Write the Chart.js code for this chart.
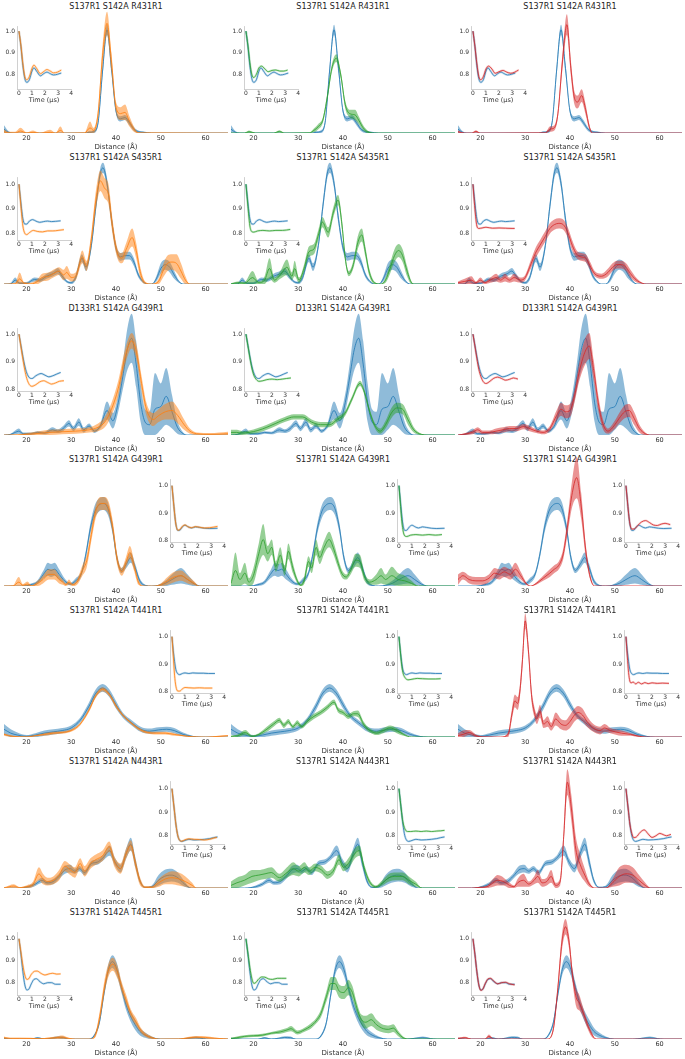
<!DOCTYPE html>
<html>
<head>
<meta charset="utf-8">
<script src="https://cdn.jsdelivr.net/npm/chart.js@4.4.1/dist/chart.umd.min.js"></script>
<style>
  body { margin: 0; background: #fff; }
  #fig { position: relative; width: 685px; height: 1059px; overflow: hidden; font-family: "DejaVu Sans", sans-serif; }
  .ttl { position: absolute; width: 224px; text-align: center; font-size: 8px; line-height: 10px; color: #222; white-space: nowrap; }
  canvas { position: absolute; }
</style>
</head>
<body>
<div id="fig"></div>
<script>
// panel titles, one per row
const titles = [
  "S137R1 S142A R431R1", "S137R1 S142A S435R1", "D133R1 S142A G439R1", "S137R1 S142A G439R1",
  "S137R1 S142A T441R1", "S137R1 S142A N443R1", "S137R1 S142A T445R1"
];
const distanceTicks = [20, 30, 40, 50, 60];
const timeTicks = [0, 1, 2, 3, 4];
const insetYTicks = [0.8, 0.9, 1.0];

// distance distributions: [distance (A), value, band half width]
const distR0Ref = [[15,0.03,0.03],[16,0.005,0.01],[17,0,0],[33,0,0],[34,0.005,0.008],[35,0.01,0.01],[36,0.08,0.02],[37,0.48,0.04],[38,0.8,0.04],[39,0.5,0.04],[40,0.17,0.02],[41,0.11,0.02],[42,0.12,0.02],[43,0.08,0.02],[44,0.03,0.015],[45,0.01,0.01],[46,0.005,0.008],[48,0,0],[65,0,0]];
const distR0Orange = [[15,0.01,0.02],[16,0,0.01],[17.5,0,0.01],[18.7,0.015,0.025],[20,0,0.005],[21.5,0.005,0.015],[23,0,0],[25.3,0.005,0.02],[26.5,0,0],[27.6,0.02,0.03],[28.5,0,0],[33,0,0.005],[34.2,0.04,0.05],[35,0.02,0.02],[36,0.15,0.04],[37,0.6,0.08],[38,0.85,0.09],[39,0.55,0.07],[40,0.2,0.04],[41,0.15,0.05],[42,0.16,0.06],[43,0.09,0.04],[44,0.03,0.02],[45,0,0.005],[65,0,0]];
const distR0Green = [[15,0,0],[18,0,0],[19,0.01,0.01],[20.5,0,0],[24.5,0,0],[25.8,0.012,0.01],[27,0,0],[32.5,0,0.005],[33.5,0.02,0.015],[34.5,0.05,0.02],[35.5,0.1,0.02],[36.5,0.28,0.03],[37.5,0.5,0.03],[38.5,0.58,0.03],[39.5,0.45,0.03],[40.5,0.22,0.03],[41.5,0.15,0.03],[42.7,0.14,0.04],[43.5,0.1,0.03],[44.5,0.04,0.02],[45.5,0.01,0.01],[47,0,0],[65,0,0]];
const distR0Red = [[15,0.01,0.01],[16.5,0,0],[18,0,0],[19,0.012,0.01],[20,0,0],[34.5,0,0.005],[35.5,0.03,0.02],[36.5,0.04,0.02],[37.3,0.15,0.03],[38.3,0.55,0.06],[39.3,0.84,0.08],[40.2,0.5,0.06],[41,0.27,0.05],[41.7,0.24,0.05],[42.6,0.29,0.05],[43.5,0.18,0.04],[44.3,0.05,0.02],[45,0,0],[65,0,0]];

const distR1Ref = [[15,0,0],[16.5,0,0.01],[17.5,0.03,0.02],[18.5,0.005,0.01],[20,0.005,0.01],[21.8,0.035,0.015],[23,0.03,0.015],[24.5,0.06,0.02],[26,0.08,0.02],[27,0.1,0.025],[28,0.06,0.02],[29,0.02,0.01],[30,0.01,0.01],[31,0.05,0.02],[32.4,0.2,0.03],[33.3,0.13,0.03],[34.5,0.3,0.03],[35.5,0.6,0.04],[36.5,0.86,0.04],[37.1,0.9,0.04],[38,0.78,0.04],[39,0.5,0.04],[40,0.28,0.03],[41,0.21,0.03],[42,0.22,0.03],[43,0.22,0.03],[44,0.17,0.03],[45,0.07,0.02],[46,0.02,0.01],[47,0,0],[48,0,0],[49,0.04,0.02],[50,0.12,0.04],[51,0.15,0.04],[52,0.13,0.04],[53,0.07,0.03],[54,0.02,0.01],[55,0,0],[65,0,0]];
const distR1Orange = [[15,0,0],[17.5,0,0.01],[18.5,0.04,0.05],[19.5,0.005,0.01],[21,0,0.01],[22.5,0.02,0.02],[23.5,0.05,0.03],[25,0.06,0.03],[26,0.08,0.03],[27.3,0.1,0.03],[28.3,0.07,0.04],[29,0.09,0.05],[30,0.05,0.03],[31,0.06,0.03],[32.5,0.21,0.05],[33.4,0.14,0.04],[34.5,0.35,0.05],[35.5,0.65,0.07],[36.5,0.8,0.08],[37.5,0.74,0.08],[38.3,0.7,0.08],[39.2,0.45,0.06],[40.3,0.24,0.04],[41.3,0.2,0.04],[42.3,0.27,0.05],[43.6,0.36,0.07],[44.5,0.26,0.06],[45.5,0.08,0.04],[46.5,0.01,0.01],[48,0,0],[49.5,0.02,0.02],[50.5,0.1,0.05],[51.5,0.16,0.06],[52.5,0.17,0.06],[53.5,0.16,0.07],[54.5,0.1,0.06],[55.5,0.03,0.03],[56.5,0,0],[65,0,0]];
const distR1Green = [[15,0,0.005],[16.5,0.01,0.01],[18,0.005,0.01],[19.8,0.05,0.05],[21.2,0.01,0.01],[22.5,0.03,0.03],[23.6,0.12,0.08],[24.7,0.03,0.02],[26,0.07,0.03],[27.5,0.13,0.06],[28.6,0.06,0.03],[29.2,0.12,0.06],[30.2,0.03,0.02],[31.3,0.12,0.03],[32.4,0.25,0.04],[33.5,0.27,0.04],[34.5,0.38,0.04],[35.4,0.48,0.04],[36.7,0.4,0.04],[37.8,0.55,0.04],[38.9,0.65,0.04],[39.8,0.45,0.04],[40.5,0.2,0.03],[41.3,0.08,0.02],[42.3,0.15,0.03],[43.3,0.32,0.05],[44.2,0.38,0.05],[45,0.25,0.04],[45.8,0.1,0.03],[47,0.01,0.01],[48.5,0,0],[49.5,0.03,0.02],[50.5,0.12,0.04],[51.5,0.22,0.05],[52.4,0.26,0.05],[53.3,0.22,0.05],[54.3,0.1,0.04],[55.3,0.01,0.01],[56,0,0],[65,0,0]];
const distR1Red = [[15,0.01,0.01],[16.5,0.02,0.02],[18,0.03,0.03],[19,0.01,0.01],[20,0.03,0.02],[21,0.01,0.01],[22.2,0.03,0.02],[23.5,0.05,0.03],[24.5,0.03,0.02],[25.5,0.05,0.03],[26.5,0.03,0.02],[27.5,0.05,0.03],[29,0.03,0.02],[30,0.05,0.02],[31,0.13,0.03],[32.3,0.24,0.04],[33.3,0.3,0.04],[34.5,0.37,0.04],[35.5,0.43,0.04],[36.5,0.46,0.04],[37.5,0.47,0.04],[38.5,0.46,0.04],[39.5,0.4,0.04],[40.5,0.3,0.04],[41.5,0.23,0.03],[42.5,0.21,0.03],[43.5,0.2,0.03],[44.5,0.14,0.03],[45.5,0.08,0.02],[47,0.06,0.02],[48.5,0.09,0.03],[49.5,0.13,0.03],[50.5,0.15,0.03],[51.5,0.15,0.03],[52.5,0.13,0.03],[53.5,0.08,0.03],[54.5,0.04,0.02],[55.5,0.015,0.01],[57,0,0],[65,0,0]];

const distR2Ref = [[15,0,0],[16.5,0.005,0.005],[17.5,0.02,0.015],[18.3,0.03,0.02],[19.3,0.01,0.01],[21,0.01,0.01],[22.5,0.02,0.01],[24,0.015,0.01],[25.8,0.04,0.02],[27,0.03,0.015],[28.2,0.05,0.02],[29.5,0.09,0.025],[30.5,0.05,0.02],[31.7,0.1,0.03],[32.8,0.04,0.02],[34,0.07,0.02],[35.2,0.03,0.015],[36.5,0.07,0.02],[38,0.19,0.07],[39.3,0.11,0.06],[40.5,0.25,0.07],[41.5,0.45,0.1],[42.5,0.66,0.16],[43.5,0.75,0.19],[44.5,0.55,0.18],[45.5,0.25,0.15],[46.5,0.1,0.1],[47.5,0.08,0.1],[48.7,0.2,0.28],[50,0.22,0.18],[51.2,0.3,0.22],[52.5,0.18,0.13],[53.7,0.06,0.05],[55,0.01,0.01],[56,0,0],[65,0,0]];
const distR2Orange = [[15,0,0],[18,0,0.005],[20,0.005,0.01],[22,0.01,0.015],[25,0.02,0.02],[28,0.025,0.02],[31,0.03,0.02],[34,0.04,0.02],[36,0.06,0.03],[37.5,0.1,0.04],[39,0.2,0.05],[40.5,0.36,0.06],[42,0.6,0.06],[43.5,0.73,0.06],[44.7,0.62,0.06],[45.7,0.4,0.06],[46.8,0.2,0.05],[48.3,0.12,0.05],[49.5,0.15,0.05],[51,0.18,0.06],[52.5,0.19,0.07],[53.8,0.15,0.06],[55.2,0.08,0.04],[56.5,0.03,0.02],[58,0.01,0.01],[61,0.005,0.01],[65,0.01,0.015]];
const distR2Green = [[15,0.02,0.02],[16.3,0.02,0.02],[17.5,0.015,0.015],[19,0.02,0.015],[21,0.035,0.02],[23,0.06,0.02],[25,0.09,0.02],[27,0.12,0.02],[29,0.14,0.02],[31,0.14,0.02],[33,0.1,0.02],[35,0.08,0.02],[37,0.08,0.02],[38.7,0.12,0.02],[40.5,0.17,0.02],[42,0.28,0.02],[43.8,0.4,0.02],[44.8,0.33,0.02],[45.8,0.2,0.02],[47,0.08,0.02],[48.3,0.03,0.02],[49.5,0.08,0.03],[50.8,0.17,0.04],[52,0.21,0.04],[53.3,0.2,0.04],[54.5,0.12,0.04],[55.8,0.04,0.02],[57.5,0.005,0.005],[59,0,0],[65,0,0]];
const distR2Red = [[15,0,0],[17,0.01,0.01],[18.2,0.02,0.015],[19.4,0.04,0.02],[20.5,0.02,0.015],[22,0.02,0.015],[23.5,0.03,0.02],[25,0.04,0.02],[26.5,0.05,0.02],[28,0.05,0.02],[29.7,0.065,0.02],[31,0.05,0.02],[32.5,0.03,0.015],[34,0.02,0.015],[35.5,0.05,0.02],[37,0.15,0.04],[38,0.2,0.05],[39,0.18,0.05],[40,0.19,0.05],[41,0.3,0.05],[42,0.48,0.07],[43.3,0.64,0.1],[44.3,0.69,0.1],[45.3,0.5,0.08],[46.3,0.25,0.06],[47.3,0.09,0.04],[48.5,0.03,0.02],[49.8,0.07,0.03],[51,0.13,0.04],[52.2,0.18,0.05],[53.2,0.19,0.05],[54.3,0.13,0.05],[55.5,0.05,0.03],[56.8,0.01,0.01],[58,0,0],[65,0,0]];

const distR3Ref = [[15,0,0],[19,0,0],[21,0.01,0.01],[22.5,0.03,0.015],[23.8,0.09,0.03],[24.8,0.13,0.05],[25.5,0.12,0.05],[26.3,0.13,0.05],[27.3,0.09,0.04],[28.5,0.04,0.02],[29.8,0.015,0.01],[31,0.04,0.02],[32.3,0.1,0.02],[33.3,0.25,0.03],[34.3,0.45,0.04],[35.3,0.58,0.05],[36.3,0.63,0.05],[37.2,0.64,0.05],[38.2,0.6,0.05],[39.2,0.45,0.04],[40.2,0.22,0.03],[41.2,0.12,0.02],[42.3,0.17,0.03],[43.3,0.22,0.04],[44.3,0.14,0.03],[45.3,0.04,0.02],[46.5,0.005,0.005],[48,0,0],[49.5,0.005,0.005],[51,0.02,0.02],[52.5,0.05,0.04],[54.5,0.08,0.06],[56,0.05,0.04],[57.5,0.015,0.015],[59,0,0],[65,0,0]];
const distR3Orange = [[15,0,0],[17,0,0.005],[18.3,0.03,0.04],[19.2,0.005,0.01],[20.2,0.015,0.02],[21.2,0,0.005],[22.5,0.02,0.02],[23.7,0.05,0.03],[25,0.09,0.04],[26.2,0.09,0.04],[27.3,0.05,0.03],[28.1,0.03,0.02],[28.8,0.01,0.01],[29.5,0.03,0.02],[30.3,0.01,0.01],[31.3,0.03,0.02],[32.5,0.12,0.04],[33.5,0.2,0.05],[34.5,0.4,0.05],[35.5,0.58,0.05],[36.5,0.64,0.05],[37.5,0.64,0.05],[38.4,0.6,0.05],[39.3,0.45,0.05],[40.3,0.2,0.04],[41.3,0.11,0.03],[42.2,0.18,0.04],[43.1,0.26,0.05],[44,0.16,0.04],[45,0.03,0.02],[46,0,0],[48.5,0,0],[50,0.01,0.01],[51.5,0.04,0.03],[53,0.07,0.04],[54.5,0.08,0.04],[56,0.05,0.03],[57.5,0.02,0.015],[58.5,0,0],[65,0,0]];
const distR3Green = [[15,0.02,0.02],[16,0.12,0.14],[17,0.05,0.05],[18.1,0.1,0.08],[19,0.03,0.03],[20,0.08,0.06],[21.2,0.25,0.08],[22.2,0.36,0.12],[23.2,0.25,0.06],[24.1,0.3,0.06],[25,0.15,0.04],[26,0.24,0.06],[27,0.12,0.04],[27.8,0.27,0.06],[28.8,0.14,0.04],[29.8,0.04,0.02],[30.6,0.005,0.01],[31.4,0.05,0.03],[32.3,0.19,0.04],[33,0.14,0.04],[34,0.3,0.06],[34.8,0.22,0.05],[35.8,0.3,0.05],[36.9,0.36,0.06],[37.8,0.3,0.05],[38.7,0.2,0.04],[39.7,0.1,0.03],[40.7,0.07,0.02],[41.7,0.12,0.03],[42.8,0.2,0.05],[43.8,0.19,0.05],[44.8,0.07,0.03],[46,0.03,0.02],[47.4,0.05,0.04],[48.5,0.08,0.06],[49.5,0.05,0.04],[50.9,0.08,0.07],[52.3,0.05,0.05],[53.8,0.04,0.04],[55.3,0.02,0.02],[56.8,0,0],[65,0,0]];
const distR3Red = [[15,0.05,0.04],[16.1,0.08,0.03],[17.5,0.05,0.03],[19,0.04,0.03],[20.5,0.04,0.03],[21.9,0.06,0.03],[23.2,0.1,0.04],[24.2,0.09,0.04],[25.3,0.11,0.04],[26.7,0.09,0.04],[27.8,0.13,0.05],[29,0.08,0.03],[30.2,0.02,0.01],[31.2,0,0],[32.5,0.02,0.01],[34,0.06,0.02],[35.5,0.1,0.03],[36.5,0.13,0.03],[37.5,0.16,0.03],[38.5,0.25,0.04],[39.4,0.45,0.06],[40.4,0.7,0.1],[41.5,0.84,0.16],[42.5,0.62,0.1],[43.5,0.28,0.05],[44.5,0.07,0.02],[45.5,0,0],[65,0,0]];

const distR4Ref = [[15,0.06,0.04],[16.5,0.03,0.03],[18,0.015,0.02],[20,0.005,0.01],[22,0.015,0.015],[24,0.03,0.02],[26,0.04,0.02],[28,0.05,0.02],[30,0.07,0.02],[32,0.13,0.02],[34,0.24,0.03],[35.5,0.34,0.03],[37,0.38,0.03],[38.5,0.34,0.03],[40,0.25,0.03],[41.5,0.17,0.02],[43.5,0.11,0.02],[45.5,0.06,0.02],[47.5,0.045,0.02],[49.5,0.055,0.02],[51.3,0.06,0.02],[53,0.05,0.02],[55,0.02,0.015],[57,0.005,0.005],[59,0,0],[65,0,0]];
const distR4Orange = [[15,0.02,0.01],[17,0.005,0.005],[20,0,0.005],[22,0.01,0.005],[24,0.02,0.01],[26,0.03,0.01],[28,0.035,0.01],[30,0.05,0.01],[32,0.1,0.01],[34,0.21,0.015],[35.5,0.32,0.015],[37,0.37,0.015],[38.5,0.33,0.015],[40,0.24,0.015],[41.5,0.17,0.01],[43,0.12,0.01],[45,0.065,0.01],[47,0.035,0.01],[49,0.03,0.01],[51,0.03,0.01],[53,0.02,0.01],[55,0.01,0.005],[57,0.002,0.003],[60,0,0],[63,0.005,0.005],[65,0.01,0.005]];
const distR4Green = [[15,0.005,0.005],[16.5,0.01,0.01],[18.2,0.035,0.02],[19.7,0.005,0.01],[21.2,0.02,0.01],[23,0.06,0.02],[24.5,0.1,0.02],[25.8,0.13,0.02],[26.8,0.09,0.02],[27.8,0.12,0.02],[28.8,0.08,0.015],[29.8,0.11,0.02],[30.8,0.08,0.015],[32,0.12,0.02],[33.5,0.16,0.02],[35,0.19,0.02],[36.5,0.23,0.02],[38,0.27,0.02],[38.9,0.21,0.02],[40,0.19,0.02],[41.2,0.16,0.02],[42.3,0.18,0.02],[43.3,0.18,0.025],[44.6,0.1,0.02],[46,0.05,0.015],[47.5,0.03,0.015],[49,0.05,0.02],[50.5,0.07,0.02],[52,0.05,0.02],[53.5,0.02,0.01],[55.3,0,0],[65,0,0]];
const distR4Red = [[15,0.01,0.02],[16.1,0.02,0.03],[17.5,0.035,0.02],[19,0.01,0.01],[20.5,0,0.005],[24.5,0,0],[26.2,0.02,0.02],[27,0.17,0.04],[27.7,0.28,0.05],[28.3,0.26,0.05],[28.8,0.35,0.05],[29.4,0.6,0.06],[30,0.9,0.06],[30.7,0.68,0.05],[31.4,0.33,0.05],[32,0.2,0.04],[32.6,0.14,0.04],[33.3,0.2,0.05],[34.1,0.1,0.03],[35,0.12,0.04],[35.8,0.08,0.03],[36.8,0.14,0.05],[38,0.1,0.04],[39,0.09,0.04],[40,0.12,0.05],[41,0.17,0.05],[41.8,0.19,0.05],[42.8,0.17,0.05],[43.8,0.12,0.04],[45.2,0.07,0.03],[46.7,0.05,0.03],[47.7,0.07,0.03],[49,0.05,0.02],[51.5,0.03,0.02],[53.5,0.02,0.01],[55.5,0.005,0.005],[57,0,0],[65,0,0]];

const distR5Ref = [[15,0,0],[18,0,0],[20.5,0.01,0.01],[22,0.03,0.015],[23.5,0.06,0.02],[24.6,0.04,0.015],[26,0.05,0.02],[27.3,0.09,0.02],[28.6,0.14,0.03],[29.8,0.15,0.03],[30.8,0.13,0.02],[31.8,0.15,0.02],[33,0.12,0.02],[34.5,0.19,0.02],[35.8,0.2,0.02],[37,0.23,0.02],[38.6,0.29,0.04],[39.8,0.2,0.03],[41,0.15,0.03],[42.3,0.27,0.04],[43.3,0.34,0.05],[44.3,0.2,0.04],[45.3,0.06,0.02],[46.5,0.005,0.005],[48,0.01,0.01],[49.5,0.06,0.04],[50.8,0.09,0.05],[52.3,0.1,0.05],[53.8,0.08,0.04],[55.3,0.03,0.02],[56.8,0,0],[65,0,0]];
const distR5Orange = [[15,0,0.005],[17.2,0.015,0.015],[18.5,0.003,0.005],[20,0.01,0.01],[21.5,0.03,0.02],[22.8,0.11,0.05],[23.7,0.07,0.04],[24.7,0.05,0.03],[26,0.06,0.03],[27.3,0.1,0.04],[28.6,0.17,0.04],[29.8,0.14,0.04],[30.8,0.12,0.04],[32,0.19,0.04],[33,0.13,0.04],[34.3,0.19,0.04],[35.5,0.22,0.04],[37,0.25,0.04],[38.5,0.32,0.04],[39.7,0.2,0.04],[41,0.15,0.04],[42.3,0.27,0.04],[43.3,0.33,0.04],[44.4,0.18,0.04],[45.4,0.05,0.03],[46.5,0.005,0.01],[48,0.005,0.01],[49.5,0.04,0.03],[51,0.07,0.04],[52.5,0.08,0.05],[54,0.07,0.05],[55.5,0.05,0.04],[57,0.02,0.02],[58,0,0],[65,0,0]];
const distR5Green = [[15,0.02,0.03],[16.3,0.04,0.04],[18,0.06,0.04],[19.7,0.09,0.05],[21.2,0.1,0.04],[22.6,0.11,0.04],[24,0.12,0.04],[25.8,0.08,0.03],[27.5,0.12,0.04],[28.9,0.15,0.05],[30.1,0.13,0.04],[31.4,0.16,0.04],[32.4,0.13,0.03],[33.8,0.16,0.03],[35.2,0.14,0.03],[36.5,0.1,0.03],[37.8,0.13,0.03],[39.1,0.22,0.04],[40.1,0.16,0.03],[41.4,0.2,0.04],[42.7,0.27,0.04],[43.7,0.29,0.04],[44.7,0.16,0.03],[45.9,0.05,0.02],[47.3,0.01,0.01],[48.8,0.04,0.02],[50.3,0.08,0.03],[51.8,0.09,0.03],[53.3,0.09,0.03],[54.7,0.06,0.03],[56.2,0.03,0.02],[57.7,0,0],[65,0,0]];
const distR5Red = [[15,0,0],[18,0,0],[20,0.005,0.005],[21.5,0.01,0.01],[22.8,0.04,0.03],[23.8,0.06,0.04],[25.2,0.05,0.03],[26.5,0.02,0.02],[27.5,0.01,0.01],[28.3,0.04,0.03],[29.6,0.06,0.05],[30.8,0.03,0.02],[32,0.06,0.03],[32.8,0.09,0.05],[33.8,0.04,0.03],[34.8,0.05,0.03],[35.8,0.09,0.05],[36.8,0.02,0.02],[37.8,0.05,0.03],[38.6,0.4,0.06],[39.4,0.82,0.1],[40.3,0.62,0.1],[41.3,0.3,0.1],[42.3,0.18,0.08],[43.3,0.1,0.05],[44.3,0.03,0.02],[45.5,0,0],[48,0,0],[49.5,0.04,0.03],[51,0.09,0.07],[52.5,0.11,0.07],[54,0.1,0.06],[55.4,0.06,0.04],[56.8,0.02,0.02],[58,0,0],[65,0,0]];

const distR6Ref = [[15,0.005,0.005],[17,0,0],[21,0,0],[22.5,0.008,0.008],[24,0,0.003],[25.5,0.005,0.005],[27,0.012,0.01],[28.3,0.01,0.01],[29.5,0,0],[34,0,0],[35.2,0.03,0.01],[36.3,0.13,0.02],[37.3,0.35,0.03],[38.3,0.54,0.04],[39.2,0.6,0.05],[40.2,0.54,0.05],[41.2,0.4,0.04],[42.2,0.27,0.04],[43.2,0.18,0.04],[44.3,0.11,0.04],[45.3,0.06,0.03],[46.5,0.03,0.02],[48,0.01,0.01],[50,0,0],[54,0,0],[56,0.005,0.005],[57.8,0.01,0.01],[59.5,0.003,0.005],[61,0,0],[65,0,0]];
const distR6Orange = [[15,0.01,0.01],[16.5,0.005,0.005],[18.5,0.005,0.005],[21,0.004,0.005],[23,0.002,0.003],[25,0.006,0.006],[26.5,0.01,0.01],[28,0.014,0.014],[29.5,0.004,0.005],[31,0,0],[34.5,0,0],[35.5,0.04,0.02],[36.5,0.2,0.04],[37.5,0.42,0.05],[38.5,0.55,0.05],[39.3,0.58,0.05],[40.3,0.52,0.05],[41.3,0.4,0.04],[42.3,0.3,0.04],[43.3,0.2,0.03],[44.5,0.13,0.03],[45.5,0.07,0.02],[46.7,0.03,0.015],[48,0.01,0.01],[49.5,0,0],[54,0,0.003],[56,0.008,0.008],[58,0.014,0.01],[60,0.012,0.01],[62,0.006,0.006],[64,0.002,0.003],[65,0,0]];
const distR6Green = [[15,0.005,0.005],[16.3,0.01,0.01],[18,0.02,0.01],[20,0.025,0.01],[22,0.03,0.01],[24,0.045,0.01],[26,0.055,0.015],[27.5,0.07,0.015],[28.4,0.08,0.02],[29.8,0.05,0.015],[31.3,0.07,0.015],[32.8,0.1,0.02],[34,0.14,0.02],[35.1,0.2,0.03],[36.3,0.33,0.04],[37.3,0.43,0.05],[38.2,0.43,0.05],[39.2,0.37,0.05],[40.2,0.36,0.05],[41.2,0.4,0.06],[42.1,0.36,0.05],[43.1,0.24,0.04],[44.1,0.15,0.04],[45.1,0.13,0.05],[46.3,0.15,0.05],[47.5,0.11,0.04],[49,0.08,0.03],[50.2,0.075,0.03],[51.2,0.085,0.03],[52.4,0.04,0.02],[53.4,0.01,0.01],[54.8,0,0],[65,0,0]];
const distR6Red = [[15,0.005,0.005],[16.6,0.01,0.008],[18,0,0],[21,0,0],[21.9,0.02,0.015],[23,0,0],[35,0,0],[36.3,0.08,0.02],[37.3,0.4,0.04],[38.2,0.75,0.06],[39,0.87,0.06],[39.8,0.75,0.05],[40.6,0.48,0.05],[41.4,0.32,0.07],[42.1,0.28,0.06],[42.8,0.22,0.04],[43.8,0.12,0.03],[44.8,0.04,0.02],[45.8,0,0],[65,0,0]];

// time traces for the insets: [time (us), normalised signal]
const traceR0Ref = [[0,1.0],[0.15,0.93],[0.3,0.84],[0.45,0.78],[0.6,0.763],[0.8,0.775],[1.0,0.815],[1.15,0.83],[1.35,0.815],[1.65,0.793],[1.9,0.803],[2.15,0.81],[2.4,0.803],[2.65,0.797],[2.95,0.8],[3.25,0.806]];
const traceR0Orange = [[0,1.0],[0.15,0.935],[0.3,0.85],[0.45,0.79],[0.6,0.775],[0.8,0.79],[1.0,0.828],[1.15,0.843],[1.35,0.828],[1.65,0.803],[1.9,0.813],[2.15,0.822],[2.4,0.815],[2.65,0.807],[2.95,0.81],[3.25,0.82]];
const traceR0Green = [[0,1.0],[0.15,0.935],[0.3,0.855],[0.45,0.8],[0.6,0.785],[0.8,0.8],[1.0,0.83],[1.2,0.838],[1.45,0.825],[1.7,0.812],[2.0,0.818],[2.3,0.82],[2.6,0.815],[2.9,0.815],[3.2,0.82]];
const traceR0Red = [[0,1.0],[0.15,0.93],[0.3,0.85],[0.45,0.79],[0.6,0.775],[0.8,0.79],[1.0,0.825],[1.2,0.838],[1.45,0.825],[1.7,0.805],[2.0,0.812],[2.3,0.818],[2.6,0.81],[2.9,0.805],[3.2,0.81],[3.5,0.82]];
const traceR1Ref = [[0,1.0],[0.1,0.95],[0.2,0.9],[0.3,0.86],[0.45,0.838],[0.6,0.838],[0.8,0.85],[1.05,0.856],[1.3,0.85],[1.6,0.845],[1.9,0.848],[2.2,0.85],[2.5,0.848],[2.8,0.849],[3.2,0.851]];
const traceR1Orange = [[0,1.0],[0.1,0.94],[0.2,0.88],[0.3,0.83],[0.45,0.8],[0.6,0.795],[0.8,0.803],[1.1,0.812],[1.4,0.808],[1.8,0.806],[2.2,0.81],[2.6,0.81],[3.0,0.812],[3.45,0.815]];
const traceR1Green = [[0,1.0],[0.1,0.94],[0.2,0.88],[0.3,0.83],[0.45,0.807],[0.6,0.805],[0.9,0.81],[1.3,0.812],[1.8,0.81],[2.3,0.812],[2.8,0.812],[3.4,0.816]];
const traceR1Red = [[0,1.0],[0.1,0.93],[0.2,0.87],[0.3,0.83],[0.45,0.82],[0.7,0.822],[1.0,0.825],[1.5,0.821],[2.0,0.822],[2.5,0.821],[3.0,0.82],[3.2,0.82]];
const traceR2Ref = [[0,1.0],[0.15,0.96],[0.3,0.92],[0.45,0.885],[0.6,0.86],[0.8,0.843],[1.0,0.84],[1.3,0.85],[1.7,0.858],[2.0,0.852],[2.3,0.846],[2.6,0.85],[2.9,0.856],[3.2,0.862]];
const traceR2Orange = [[0,1.0],[0.15,0.955],[0.3,0.91],[0.45,0.87],[0.6,0.84],[0.8,0.818],[1.0,0.812],[1.3,0.818],[1.6,0.828],[1.9,0.832],[2.2,0.826],[2.5,0.82],[2.8,0.824],[3.1,0.83],[3.45,0.832]];
const traceR2Green = [[0,1.0],[0.15,0.958],[0.3,0.915],[0.45,0.878],[0.6,0.852],[0.8,0.836],[1.0,0.83],[1.3,0.832],[1.6,0.836],[2.0,0.838],[2.4,0.836],[2.8,0.838],[3.1,0.84],[3.45,0.842]];
const traceR2Red = [[0,1.0],[0.15,0.957],[0.3,0.912],[0.45,0.873],[0.6,0.848],[0.8,0.828],[1.0,0.822],[1.3,0.83],[1.6,0.841],[1.9,0.845],[2.2,0.84],[2.5,0.834],[2.8,0.837],[3.1,0.842],[3.45,0.838]];
const traceR3Ref = [[0,1.0],[0.1,0.95],[0.2,0.9],[0.3,0.86],[0.45,0.837],[0.6,0.838],[0.8,0.85],[1.0,0.856],[1.25,0.85],[1.5,0.846],[1.8,0.85],[2.1,0.848],[2.5,0.845],[2.9,0.844],[3.5,0.845]];
const traceR3Orange = [[0,1.0],[0.1,0.95],[0.2,0.9],[0.3,0.86],[0.45,0.838],[0.6,0.84],[0.8,0.852],[1.0,0.857],[1.25,0.85],[1.5,0.847],[1.8,0.851],[2.1,0.849],[2.5,0.846],[2.9,0.847],[3.5,0.852]];
const traceR3Green = [[0,1.0],[0.1,0.94],[0.2,0.88],[0.3,0.84],[0.45,0.817],[0.6,0.815],[0.9,0.82],[1.3,0.822],[1.8,0.82],[2.3,0.822],[2.8,0.82],[3.3,0.822]];
const traceR3Red = [[0,1.0],[0.1,0.95],[0.2,0.9],[0.3,0.862],[0.45,0.842],[0.65,0.843],[0.9,0.855],[1.2,0.868],[1.5,0.873],[1.8,0.866],[2.1,0.857],[2.4,0.855],[2.7,0.86],[3.0,0.863],[3.4,0.858]];
const traceR4Ref = [[0,1.0],[0.1,0.95],[0.2,0.91],[0.3,0.88],[0.45,0.865],[0.6,0.862],[0.8,0.866],[1.0,0.868],[1.3,0.866],[1.6,0.868],[2.0,0.867],[2.4,0.867],[2.8,0.866],[3.3,0.866]];
const traceR4Orange = [[0,1.0],[0.1,0.93],[0.2,0.86],[0.3,0.82],[0.45,0.802],[0.6,0.802],[0.8,0.81],[1.0,0.815],[1.3,0.814],[1.7,0.813],[2.1,0.814],[2.5,0.813],[3.1,0.813]];
const traceR4Green = [[0,1.0],[0.1,0.95],[0.2,0.9],[0.3,0.87],[0.45,0.852],[0.7,0.843],[1.0,0.845],[1.4,0.848],[1.8,0.847],[2.3,0.846],[2.8,0.846],[3.2,0.847]];
const traceR4Red = [[0,1.0],[0.1,0.93],[0.2,0.87],[0.3,0.838],[0.4,0.832],[0.55,0.835],[0.75,0.828],[0.95,0.834],[1.2,0.828],[1.45,0.833],[1.7,0.829],[2.0,0.832],[2.4,0.83],[2.8,0.831],[3.3,0.83]];
const traceR5Ref = [[0,1.0],[0.1,0.95],[0.2,0.9],[0.3,0.85],[0.45,0.8],[0.6,0.78],[0.75,0.776],[1.0,0.78],[1.3,0.785],[1.7,0.782],[2.1,0.783],[2.5,0.785],[2.9,0.788],[3.2,0.792],[3.5,0.795]];
const traceR5Orange = [[0,1.0],[0.1,0.95],[0.2,0.9],[0.3,0.85],[0.45,0.8],[0.6,0.78],[0.75,0.777],[1.0,0.783],[1.3,0.787],[1.7,0.785],[2.1,0.784],[2.5,0.782],[2.9,0.785],[3.2,0.79],[3.45,0.793]];
const traceR5Green = [[0,1.0],[0.1,0.95],[0.2,0.9],[0.3,0.86],[0.45,0.83],[0.65,0.818],[0.9,0.818],[1.3,0.82],[1.7,0.818],[2.1,0.82],[2.5,0.818],[2.9,0.82],[3.2,0.821],[3.5,0.823]];
const traceR5Red = [[0,1.0],[0.1,0.95],[0.2,0.9],[0.3,0.85],[0.45,0.81],[0.6,0.792],[0.8,0.795],[1.1,0.815],[1.4,0.825],[1.7,0.808],[2.0,0.793],[2.3,0.8],[2.6,0.81],[2.85,0.805],[3.1,0.8],[3.45,0.806]];
const traceR6Ref = [[0,1.0],[0.15,0.93],[0.3,0.85],[0.45,0.79],[0.6,0.767],[0.75,0.77],[0.95,0.795],[1.15,0.815],[1.35,0.818],[1.6,0.805],[1.9,0.795],[2.2,0.8],[2.5,0.8],[2.8,0.793],[3.2,0.793]];
const traceR6Orange = [[0,1.0],[0.15,0.94],[0.3,0.88],[0.45,0.835],[0.6,0.815],[0.75,0.818],[0.95,0.838],[1.2,0.852],[1.4,0.853],[1.7,0.842],[2.0,0.835],[2.3,0.84],[2.6,0.843],[2.9,0.839],[3.2,0.84]];
const traceR6Green = [[0,1.0],[0.15,0.935],[0.3,0.87],[0.45,0.82],[0.6,0.797],[0.75,0.8],[0.95,0.815],[1.2,0.826],[1.45,0.825],[1.75,0.817],[2.05,0.815],[2.4,0.82],[2.7,0.82],[3.1,0.82]];
const traceR6Red = [[0,1.0],[0.15,0.93],[0.3,0.85],[0.45,0.79],[0.6,0.765],[0.75,0.77],[0.95,0.797],[1.15,0.817],[1.35,0.82],[1.6,0.807],[1.9,0.795],[2.2,0.8],[2.5,0.802],[2.8,0.795],[3.2,0.79]];

// inset y limits per row and whether the inset sits on the right
const insetYRange = [[0.732,1.021],[0.773,1.027],[0.795,1.02],[0.795,1.022],[0.795,1.022],[0.765,1.03],[0.744,1.028]];
const insetOnRight = [false, false, false, true, true, true, false];

const refDist = [distR0Ref, distR1Ref, distR2Ref, distR3Ref, distR4Ref, distR5Ref, distR6Ref];
const mutDist = [
  [distR0Orange, distR0Green, distR0Red], [distR1Orange, distR1Green, distR1Red],
  [distR2Orange, distR2Green, distR2Red], [distR3Orange, distR3Green, distR3Red],
  [distR4Orange, distR4Green, distR4Red], [distR5Orange, distR5Green, distR5Red],
  [distR6Orange, distR6Green, distR6Red]
];
const refTrace = [traceR0Ref, traceR1Ref, traceR2Ref, traceR3Ref, traceR4Ref, traceR5Ref, traceR6Ref];
const mutTrace = [
  [traceR0Orange, traceR0Green, traceR0Red], [traceR1Orange, traceR1Green, traceR1Red],
  [traceR2Orange, traceR2Green, traceR2Red], [traceR3Orange, traceR3Green, traceR3Red],
  [traceR4Orange, traceR4Green, traceR4Red], [traceR5Orange, traceR5Green, traceR5Red],
  [traceR6Orange, traceR6Green, traceR6Red]
];

const BLUE = '#1f77b4';
const MUT_COLORS = ['#ff7f0e', '#2ca02c', '#d62728'];
const FONT = '"DejaVu Sans", sans-serif';
const TEXT = '#333';
const colX = [4, 231, 458];
const ROW_H = 151;
const fig = document.getElementById('fig');

Chart.defaults.font.family = FONT;

function rgba(hex, a) {
  const n = parseInt(hex.slice(1), 16);
  return `rgba(${n >> 16},${(n >> 8) & 255},${n & 255},${a})`;
}

function makeCanvas(left, top, w, h) {
  const c = document.createElement('canvas');
  c.width = w; c.height = h;
  c.style.left = left + 'px'; c.style.top = top + 'px';
  c.style.width = w + 'px'; c.style.height = h + 'px';
  fig.appendChild(c);
  return c;
}

// mid line + shaded band (upper, then lower filled back to upper)
function addBand(datasets, pts, color) {
  const common = { pointRadius: 0, cubicInterpolationMode: 'monotone' };
  datasets.push({ ...common, data: pts.map(p => ({ x: p[0], y: p[1] })), borderColor: color, borderWidth: 0.8, fill: false });
  datasets.push({ ...common, data: pts.map(p => ({ x: p[0], y: p[1] + p[2] })), borderColor: 'transparent', borderWidth: 0, fill: false });
  datasets.push({ ...common, data: pts.map(p => ({ x: p[0], y: Math.max(0, p[1] - p[2]) })), borderColor: 'transparent', borderWidth: 0, fill: '-1', backgroundColor: rgba(color, 0.5) });
}

// fitted trace with a faint halo standing in for the raw points
function addTrace(datasets, pts, color) {
  const data = pts.map(p => ({ x: p[0], y: p[1] }));
  datasets.push({ data, borderColor: color, borderWidth: 0.8, pointRadius: 0, cubicInterpolationMode: 'monotone', fill: false });
  datasets.push({ data, borderColor: rgba(color, 0.22), borderWidth: 2.2, pointRadius: 0, cubicInterpolationMode: 'monotone', fill: false });
}

function mainChart(row, col) {
  const datasets = [];
  addBand(datasets, mutDist[row][col], MUT_COLORS[col]);
  addBand(datasets, refDist[row], BLUE);
  const canvas = makeCanvas(colX[col], row * ROW_H + 4, 224, 147);
  new Chart(canvas, {
    type: 'line',
    data: { datasets },
    options: {
      responsive: false, animation: false, events: [],
      layout: { padding: 0 },
      plugins: { legend: { display: false }, tooltip: { enabled: false } },
      scales: {
        x: {
          type: 'linear', min: 15, max: 65,
          afterBuildTicks: s => { s.ticks = distanceTicks.map(v => ({ value: v })); },
          afterFit: s => { s.height = 18; },
          grid: { display: false, drawTicks: false },
          border: { display: false },
          ticks: { padding: 1, color: TEXT, font: { size: 6.5 }, maxRotation: 0 },
          title: { display: true, text: 'Distance (Å)', color: TEXT, font: { size: 7 }, padding: { top: 0, bottom: 0 } }
        },
        y: { display: false, min: 0, max: 1 }
      }
    }
  });
}

function insetChart(row, col) {
  const datasets = [];
  addTrace(datasets, mutTrace[row][col], MUT_COLORS[col]);
  addTrace(datasets, refTrace[row], BLUE);
  const spine = colX[col] + (insetOnRight[row] ? 166 : 12.5);
  const canvas = makeCanvas(Math.round(spine - 16), row * ROW_H + 21, 73, 83);
  new Chart(canvas, {
    type: 'line',
    data: { datasets },
    options: {
      responsive: false, animation: false, events: [],
      layout: { padding: 0 },
      plugins: { legend: { display: false }, tooltip: { enabled: false } },
      scales: {
        x: {
          type: 'linear', min: -0.15, max: 4,
          afterBuildTicks: s => { s.ticks = timeTicks.map(v => ({ value: v })); },
          afterFit: s => { s.height = 15; },
          grid: { display: false, drawTicks: false },
          border: { display: true, color: '#c4c4c4', width: 0.8 },
          ticks: { padding: 1, color: TEXT, font: { size: 6 }, maxRotation: 0, autoSkip: false },
          title: { display: true, text: 'Time (μs)', color: TEXT, font: { size: 6.5 }, padding: { top: 0, bottom: 0 } }
        },
        y: {
          min: insetYRange[row][0], max: insetYRange[row][1],
          afterBuildTicks: s => { s.ticks = insetYTicks.map(v => ({ value: v })); },
          afterFit: s => { s.width = 16; },
          grid: { display: false, drawTicks: false },
          border: { display: true, color: '#c4c4c4', width: 0.8 },
          ticks: { padding: 2, color: TEXT, font: { size: 6 }, callback: v => v.toFixed(1) }
        }
      }
    }
  });
}

for (let r = 0; r < titles.length; r++) {
  for (let c = 0; c < 3; c++) {
    const t = document.createElement('div');
    t.className = 'ttl';
    t.style.left = colX[c] + 'px';
    t.style.top = (r * ROW_H + 2) + 'px';
    t.textContent = titles[r];
    fig.appendChild(t);
    mainChart(r, c);
    insetChart(r, c);
  }
}
</script>
</body>
</html>
